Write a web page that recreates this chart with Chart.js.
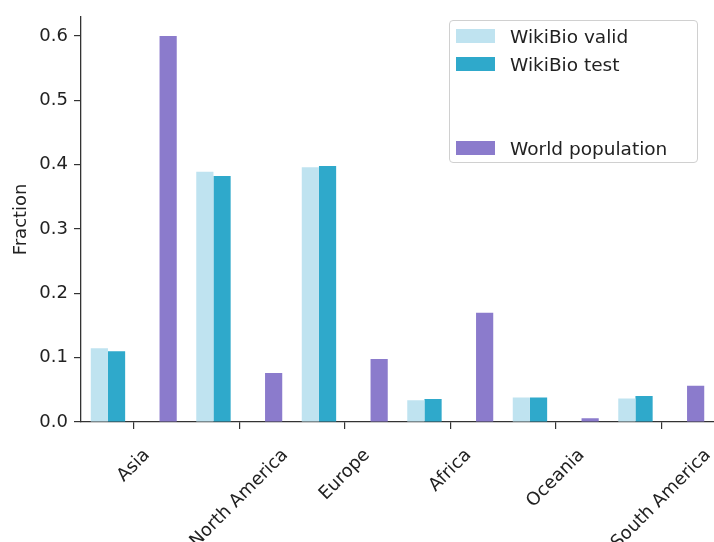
<!DOCTYPE html>
<html>
<head>
<meta charset="utf-8">
<script src="https://cdn.jsdelivr.net/npm/chart.js@4/dist/chart.umd.min.js"></script>
<style>
  body { margin: 0; background: #fff; }
  #wrap { position: relative; width: 714px; height: 542px; }
  #legend {
    position: absolute; left: 449px; top: 20px; width: 247px; height: 141px;
    border: 1px solid #d0d0d0; border-radius: 4px; background: #fff;
    font-family: "DejaVu Sans", sans-serif; font-size: 18.5px; color: #222;
  }
  .row { position: absolute; left: 0; height: 28px; display: flex; align-items: center; }
  .sw { width: 39px; height: 14px; margin-left: 6px; margin-right: 15px; }
</style>
</head>
<body>
<div id="wrap">
  <canvas id="grafico" width="714" height="542"></canvas>
  <div id="legend"></div>
</div>
<script>
  const regiones = ["Asia", "North America", "Europe", "Africa", "Oceania", "South America"];
  const wikiValid = [0.1145, 0.389, 0.396, 0.034, 0.038, 0.0366];
  const wikiTest = [0.110, 0.3826, 0.398, 0.0356, 0.038, 0.0406];
  // dos series borradas en la figura original (no se ven)
  const oculta1 = [0.286, 0.17, 0.35, 0.13, 0.017, 0.04];
  const oculta2 = [0.268, 0.0, 0.0, 0.0, 0.0, 0.0];
  const poblacion = [0.600, 0.0763, 0.098, 0.170, 0.006, 0.0565];
  const nombres = ["WikiBio valid", "WikiBio test", "", "", "World population"];
  const colores = ["#bfe3f0", "#2fa9cb", "rgba(255,255,255,0)", "rgba(255,255,255,0)", "#8b7bcc"];
  const ticksY = [0, 0.1, 0.2, 0.3, 0.4, 0.5, 0.6];

  const series = [wikiValid, wikiTest, oculta1, oculta2, poblacion];
  const fuente = '"DejaVu Sans", sans-serif';

  // etiquetas del eje x giradas 45 grados, centradas en el tick (como matplotlib)
  const etiquetasX = {
    id: "etiquetasX",
    afterDraw(chart) {
      const ctx = chart.ctx;
      const x = chart.scales.x;
      const top = 446;
      const h = 18;
      ctx.save();
      ctx.font = "18px " + fuente;
      ctx.fillStyle = "#222";
      ctx.textAlign = "center";
      ctx.textBaseline = "middle";
      regiones.forEach((txt, i) => {
        const w = ctx.measureText(txt).width;
        const H = (w + h) * Math.SQRT1_2;
        ctx.save();
        ctx.translate(x.getPixelForTick(i), top + H / 2);
        ctx.rotate(-Math.PI / 4);
        ctx.fillText(txt, 0, 0);
        ctx.restore();
      });
      ctx.restore();
    },
  };

  const grafico = new Chart(document.getElementById("grafico"), {
    type: "bar",
    data: {
      labels: regiones,
      datasets: series.map((data, i) => ({
        label: nombres[i],
        data,
        backgroundColor: colores[i],
        borderWidth: 0,
        categoryPercentage: 0.815,
        barPercentage: 1.0,
      })),
    },
    options: {
      responsive: false,
      animation: false,
      devicePixelRatio: 1,
      layout: { padding: { top: 10, right: 0, left: 0, bottom: 0 } },
      plugins: { legend: { display: false }, tooltip: { enabled: false } },
      scales: {
        x: {
          offset: true,
          grid: { offset: false, drawOnChartArea: false, drawTicks: true, tickLength: 7, color: "#333", lineWidth: 1.2 },
          border: { color: "#333", width: 1.3 },
          ticks: { display: false },
          afterFit: (s) => { s.height = 120; },
        },
        y: {
          min: 0,
          max: 0.63,
          afterBuildTicks: (s) => { s.ticks = ticksY.map((v) => ({ value: v })); },
          grid: { drawOnChartArea: false, drawTicks: true, tickLength: 7, color: "#333", lineWidth: 1.2 },
          border: { color: "#333", width: 1.3 },
          ticks: {
            padding: 6,
            color: "#222",
            font: { family: fuente, size: 18 },
            callback: (v) => Number(v).toFixed(1),
          },
          title: {
            display: true,
            text: "Fraction",
            color: "#222",
            font: { family: fuente, size: 18 },
            padding: { top: 11, bottom: 0 },
          },
          afterFit: (s) => { s.width = 81; },
        },
      },
    },
    plugins: [etiquetasX],
  });

  // leyenda vertical dentro del area del grafico
  const $leyenda = document.getElementById("legend");
  grafico.data.datasets.forEach((ds, i) => {
    $leyenda.innerHTML += `<div class="row" style="top:${1 + i * 28}px">
      <span class="sw" style="background:${ds.backgroundColor}"></span><span>${ds.label}</span>
    </div>`;
  });
</script>
</body>
</html>
